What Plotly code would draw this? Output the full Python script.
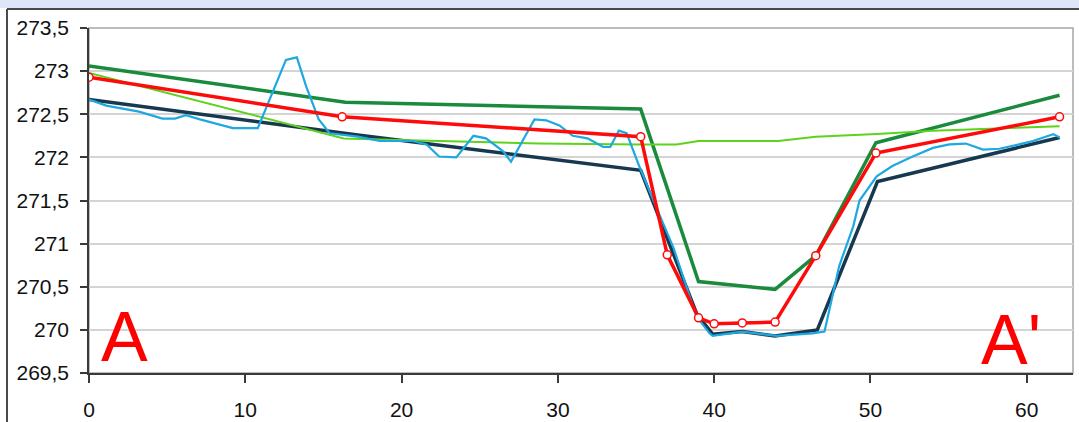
import plotly.graph_objects as go

# ---- data ----
green_x = [0, 16.4, 35.3, 39.0, 43.9, 46.5, 50.35, 62.1]
green_y = [273.06, 272.64, 272.56, 270.56, 270.47, 270.86, 272.17, 272.72]

red_x = [0, 16.2, 35.3, 37.0, 39.0, 40.0, 41.8, 43.9, 46.5, 50.35, 62.1]
red_y = [272.93, 272.47, 272.24, 270.87, 270.14, 270.07, 270.08, 270.09, 270.86, 272.05, 272.47]

navy_x = [0, 17.2, 35.3, 38.9, 39.9, 41.8, 43.9, 46.6, 50.45, 62.1]
navy_y = [272.67, 272.26, 271.85, 270.18, 269.95, 269.98, 269.93, 270.0, 271.72, 272.23]

blue_x = [0, 1.1, 3.2, 4.7, 5.5, 6.2, 7.1, 9.2, 10.8, 11.8, 12.6, 13.3, 13.9, 14.7, 15.4,
          17.2, 18.6, 20.7, 21.6, 22.4, 23.5, 24.6, 25.4, 26.5, 27.0, 28.5, 29.25, 30.1,
          30.95, 31.9, 32.9, 33.35, 33.9, 34.4, 35.2, 36.3, 37.4, 38.85, 39.7, 39.9, 41.8,
          44.0, 46.3, 47.06, 48.0, 48.9, 49.3, 50.4, 51.4, 52.7, 54.0, 55.05, 56.1, 57.2,
          58.25, 59.5, 60.4, 61.7, 62.1]
blue_y = [272.67, 272.6, 272.53, 272.45, 272.45, 272.49, 272.44, 272.34, 272.34, 272.78,
          273.13, 273.16, 272.82, 272.44, 272.28, 272.24, 272.19, 272.19, 272.15, 272.01,
          272.0, 272.25, 272.22, 272.07, 271.95, 272.44, 272.43, 272.37, 272.25, 272.22,
          272.12, 272.12, 272.31, 272.28, 271.9, 271.42, 270.95, 270.16, 269.96, 269.93,
          269.98, 269.93, 269.96, 269.98, 270.74, 271.2, 271.5, 271.78, 271.9, 272.01,
          272.11, 272.15, 272.16, 272.09, 272.1, 272.15, 272.19, 272.27, 272.23]

lime_x = [0, 16.3, 20.5, 28.8, 35.2, 37.6, 39.0, 44.1, 46.5, 50.4, 54.0, 58.2, 62.1]
lime_y = [272.98, 272.22, 272.2, 272.16, 272.15, 272.15, 272.19, 272.19, 272.24, 272.27,
          272.31, 272.34, 272.36]

y_ticks = [269.5, 270, 270.5, 271, 271.5, 272, 272.5, 273, 273.5]
y_ticktext = ["269,5", "270", "270,5", "271", "271,5", "272", "272,5", "273", "273,5"]
x_ticks = [0, 10, 20, 30, 40, 50, 60]

FONT = "Liberation Sans, Arial, sans-serif"

fig = go.Figure()
fig.add_trace(go.Scatter(x=green_x, y=green_y, mode="lines",
                         line=dict(color="#1a8a3c", width=3.5)))
fig.add_trace(go.Scatter(x=navy_x, y=navy_y, mode="lines",
                         line=dict(color="#17394f", width=3.5)))
fig.add_trace(go.Scatter(x=lime_x, y=lime_y, mode="lines",
                         line=dict(color="#5ed21c", width=2)))
fig.add_trace(go.Scatter(x=blue_x, y=blue_y, mode="lines",
                         line=dict(color="#1ea8e2", width=2.2)))
fig.add_trace(go.Scatter(x=red_x, y=red_y, mode="lines+markers",
                         line=dict(color="#ff0a0a", width=3.5),
                         marker=dict(symbol="circle", size=8, color="white",
                                     line=dict(color="#ff0a0a", width=1.5))))

L, R, T, B = 89, 6, 28, 49
W, H = 1079, 422
pw, ph = W - L - R, H - T - B

def px_x(p):
    return (p - L) / pw

def px_y(p):
    return (H - B - p) / ph

shapes = [
    # window band at top
    dict(type="rect", xref="paper", yref="paper", x0=px_x(0), x1=px_x(W), y0=px_y(8), y1=px_y(0),
         fillcolor="#dde7f5", line=dict(width=0), layer="below"),
    # outer chart frame
    dict(type="line", xref="paper", yref="paper", x0=px_x(7), x1=px_x(W), y0=px_y(9), y1=px_y(9),
         line=dict(color="#4a4a4a", width=2)),
    dict(type="line", xref="paper", yref="paper", x0=px_x(7), x1=px_x(7), y0=px_y(H), y1=px_y(9),
         line=dict(color="#4a4a4a", width=2)),
    # plot area border (grey)
    dict(type="rect", xref="paper", yref="paper", x0=0, x1=1, y0=0, y1=1,
         line=dict(color="#a6a6a6", width=1.5), layer="below"),
]

fig.update_layout(
    width=W, height=H,
    margin=dict(l=L, r=R, t=T, b=B, autoexpand=False),
    paper_bgcolor="white", plot_bgcolor="white",
    showlegend=False,
    font=dict(family=FONT, size=21, color="#111111"),
    shapes=shapes,
    annotations=[
        dict(x=2.3, y=269.92, xref="x", yref="y", text="A", showarrow=False,
             font=dict(family=FONT, size=70, color="#ff0000"), xanchor="center", yanchor="middle"),
        dict(x=59.0, y=269.88, xref="x", yref="y", text="A'", showarrow=False,
             font=dict(family=FONT, size=70, color="#ff0000"), xanchor="center", yanchor="middle"),
    ],
)
fig.update_xaxes(range=[0, 62.96], tickvals=x_ticks, showgrid=False, zeroline=False,
                 showline=True, linecolor="#3a3a3a", linewidth=1.5, automargin=False,
                 ticks="outside", ticklen=8, tickwidth=1.5, tickcolor="#3a3a3a",
                 ticklabelstandoff=9)
fig.update_yaxes(range=[269.5, 273.5], tickvals=y_ticks, ticktext=y_ticktext,
                 showgrid=True, gridcolor="#d4d4d4", gridwidth=1.5, zeroline=False,
                 showline=True, linecolor="#3a3a3a", linewidth=1.5, automargin=False,
                 ticks="outside", ticklen=7, tickwidth=1.5, tickcolor="#3a3a3a",
                 ticklabelstandoff=7)

fig.write_html("out.html", config={"displayModeBar": False},
               post_script="document.body.style.margin='0';document.body.style.overflow='hidden';")
